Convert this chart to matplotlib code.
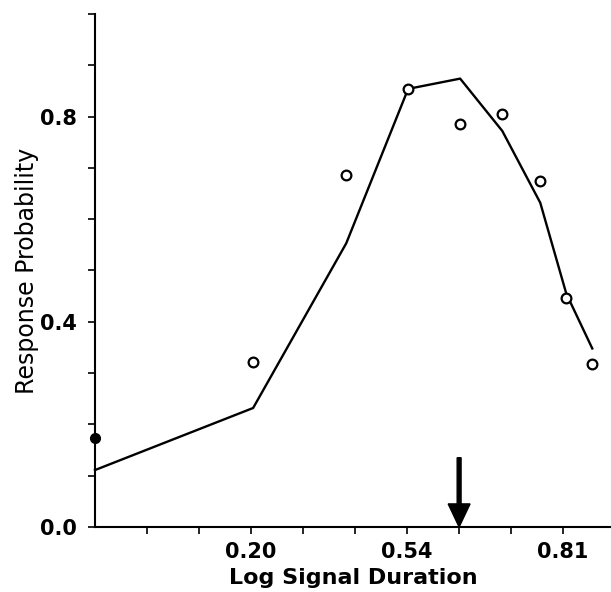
import matplotlib.pyplot as plt

# tick positions run 0..9 along the duration axis (labels only on every third)
x_pos = [0, 3.04, 4.83, 6.02, 7.02, 7.83, 8.56, 9.06, 9.56]
observed = [0.173, 0.321, 0.687, 0.854, 0.786, 0.805, 0.675, 0.447, 0.317]
predicted = [0.111, 0.232, 0.553, 0.854, 0.874, 0.772, 0.632, 0.455, 0.348]

x_ticks = [1, 2, 3, 4, 5, 6, 7, 8, 9]
x_labels = ['', '', '0.20', '', '', '0.54', '', '', '0.81']
y_ticks = [0.0, 0.1, 0.2, 0.3, 0.4, 0.5, 0.6, 0.7, 0.8, 0.9, 1.0]
y_labels = ['0.0', '', '', '', '0.4', '', '', '', '0.8', '', '']
arrow_x = 7
arrow_top = 0.135

fig = plt.figure(figsize=(6.11, 5.92), dpi=100)
ax = fig.add_axes([0.1555, 0.1098, 0.8445, 0.8666])

ax.plot(x_pos, predicted, color='black', linewidth=1.7, clip_on=False)
ax.plot(x_pos[1:], observed[1:], linestyle='none', marker='o', markersize=7,
        markerfacecolor='white', markeredgecolor='black', markeredgewidth=1.6,
        clip_on=False, zorder=3)
ax.plot(x_pos[:1], observed[:1], linestyle='none', marker='o', markersize=7,
        color='black', clip_on=False, zorder=3)

ax.arrow(arrow_x, arrow_top, 0, -arrow_top, width=0.075, head_width=0.42,
         head_length=0.045, length_includes_head=True, color='black', zorder=4)

ax.set_xlim(0, 9.92)
ax.set_ylim(0, 1.0)
ax.spines['top'].set_visible(False)
ax.spines['right'].set_visible(False)
ax.spines['left'].set_linewidth(1.5)
ax.spines['bottom'].set_linewidth(1.5)

ax.set_xticks(x_ticks)
ax.set_xticklabels(x_labels, fontsize=15, fontweight='bold')
ax.set_yticks(y_ticks)
ax.set_yticklabels(y_labels, fontsize=15, fontweight='bold')
ax.tick_params(axis='both', direction='out', length=5, width=1.2)
ax.tick_params(axis='x', pad=6)
ax.tick_params(axis='y', pad=8)

ax.set_xlabel('Log Signal Duration', fontsize=16, fontweight='bold', labelpad=4)
ax.set_ylabel('Response Probability', fontsize=17, labelpad=1)

fig.savefig('out.png', dpi=100)
